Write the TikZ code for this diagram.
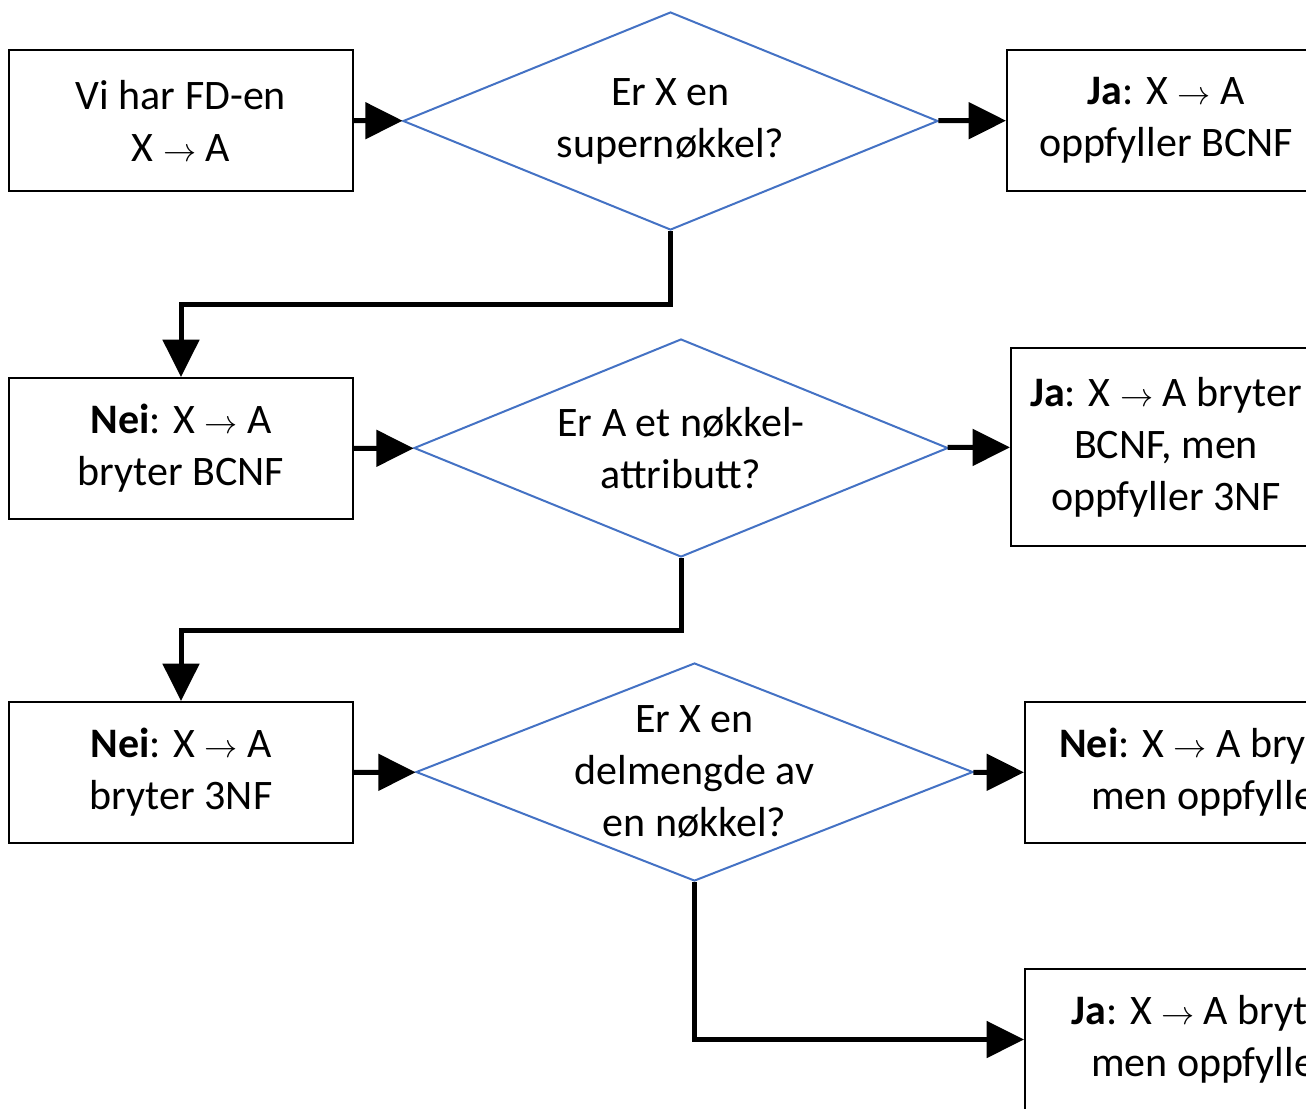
\documentclass[tikz,border=0pt]{standalone}
\usepackage{fontspec}
\setmainfont{Carlito}
\definecolor{chartblue}{HTML}{4472C4}
\usetikzlibrary{positioning,arrows.meta,shapes.geometric,calc}

\begin{document}
\begin{tikzpicture}[
      x=0.75pt, y=0.75pt,
      font=\fontsize{31.5}{39}\selectfont,
      box/.style={rectangle, draw=black, line width=1.5pt, align=center, inner sep=0pt},
      ask/.style={diamond, draw=chartblue, line width=1.5pt, inner sep=0pt, minimum height=163.5pt},
      flow/.style={-{Triangle[length=28pt,width=27pt]}, line width=3.75pt},
    ]
    \useasboundingbox (0,0) rectangle (1306,-1108);
    \clip (0,0) rectangle (1306,-1108);

    % left column
    \node[box, minimum width=258pt, minimum height=105.75pt] (b1) at (181,-120.5)
      {Vi har FD-en\\X $\rightarrow$ A};
    \node[box, minimum width=258pt, minimum height=105.75pt] (b2) at (181,-448.5)
      {\textbf{Nei}: X $\rightarrow$ A\\bryter BCNF};
    \node[box, minimum width=258pt, minimum height=105.75pt] (b3) at (181,-772.5)
      {\textbf{Nei}: X $\rightarrow$ A\\bryter 3NF};

    % questions
    \node[ask, minimum width=401.25pt,
          label={[align=center]center:Er X en\\supernøkkel?}] (d1) at (670.5,-121) {};
    \node[ask, minimum width=400.5pt,
          label={[align=center]center:Er A et nøkkel-\\attributt?}] (d2) at (681,-448) {};
    \node[ask, minimum width=417.75pt,
          label={[align=center]center:Er X en\\delmengde av\\en nøkkel?}] (d3) at (694.5,-772) {};

    % answers
    \node[box, minimum width=238.5pt, minimum height=105.75pt] (j1) at (1166,-120.5)
      {\textbf{Ja}: X $\rightarrow$ A\\oppfyller BCNF};
    \node[box, minimum width=232.5pt, minimum height=148.5pt] (j2) at (1166,-447)
      {\textbf{Ja}: X $\rightarrow$ A bryter\\BCNF, men\\oppfyller 3NF};
    \node[box, minimum width=336pt, minimum height=105.75pt] (n3) at (1249,-772.5)
      {\textbf{Nei}: X $\rightarrow$ A bryter 3NF,\\men oppfyller 2NF};
    \node[box, minimum width=336pt, minimum height=105.75pt] (j3) at (1249,-1039.5)
      {\textbf{Ja}: X $\rightarrow$ A bryter 2NF,\\men oppfyller 1NF};

    \draw[flow] (b1) -- (d1);
    \draw[flow] (d1) -- (j1);
    \draw[flow] (d1.south) -- ++(0,-73) -| (b2.north);
    \draw[flow] (b2) -- (d2);
    \draw[flow] (d2) -- (j2);
    \draw[flow] (d2.south) -- ++(0,-72) -| (b3.north);
    \draw[flow] (b3) -- (d3);
    \draw[flow] (d3) -- (n3);
    \draw[flow] (d3.south) |- (j3.west);
  \end{tikzpicture}
\end{document}
